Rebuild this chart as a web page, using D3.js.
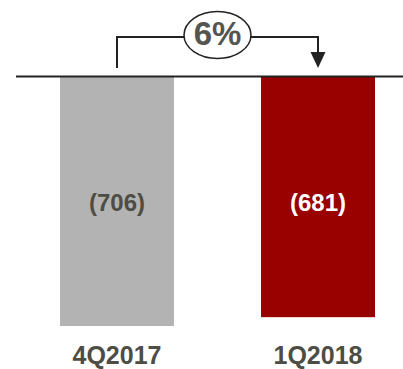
<!DOCTYPE html>
<html>
<head>
<meta charset="utf-8">
<script src="https://cdn.jsdelivr.net/npm/d3@7"></script>
<style>
  html, body { margin: 0; padding: 0; background: #fff; }
  svg { display: block; }
  text { font-family: "Liberation Sans", Arial, sans-serif; font-weight: bold; }
</style>
</head>
<body>
<svg id="chart" width="403" height="369"></svg>
<script>
// Quarterly values (negative amounts, shown in parentheses)
const categories = ["4Q2017", "1Q2018"];
const values = [-706, -681];
const valueLabels = ["(706)", "(681)"];
const barColors = ["#b3b3b3", "#990000"];
const labelColors = ["#4d4d45", "#ffffff"];
const changeLabel = "6%";

const svg = d3.select("#chart");

const x = d3.scaleBand()
  .domain(categories)
  .range([60, 375])
  .paddingInner(0.433)
  .paddingOuter(0);

const y = d3.scaleLinear()
  .domain([0, -706])
  .range([77, 326]);

// Bars hanging below the zero line
svg.selectAll("rect.bar")
  .data(categories)
  .join("rect")
  .attr("class", "bar")
  .attr("x", d => x(d))
  .attr("width", x.bandwidth())
  .attr("y", y(0))
  .attr("height", (d, i) => y(values[i]) - y(0))
  .attr("fill", (d, i) => barColors[i]);

// Zero line
svg.append("line")
  .attr("x1", 16).attr("x2", 403)
  .attr("y1", y(0) - 0.5).attr("y2", y(0) - 0.5)
  .attr("stroke", "#222").attr("stroke-width", 2);

// Value labels inside bars
svg.selectAll("text.val")
  .data(categories)
  .join("text")
  .attr("class", "val")
  .attr("x", d => x(d) + x.bandwidth() / 2)
  .attr("y", 211)
  .attr("text-anchor", "middle")
  .attr("font-size", 24)
  .attr("fill", (d, i) => labelColors[i])
  .text((d, i) => valueLabels[i]);

// Category labels
svg.selectAll("text.cat")
  .data(categories)
  .join("text")
  .attr("class", "cat")
  .attr("x", d => x(d) + x.bandwidth() / 2)
  .attr("y", 364)
  .attr("text-anchor", "middle")
  .attr("font-size", 25)
  .attr("fill", "#4d4d45")
  .text(d => d);

// Change bracket with arrow
const cx0 = x(categories[0]) + x.bandwidth() / 2;
const cx1 = x(categories[1]) + x.bandwidth() / 2;
const topY = 37;
const arrowBase = 52;
const arrowTip = 68;

svg.append("path")
  .attr("d", `M${cx0},${arrowTip} V${topY} H${cx1} V${arrowBase}`)
  .attr("fill", "none")
  .attr("stroke", "#222")
  .attr("stroke-width", 2);

svg.append("path")
  .attr("d", `M${cx1 - 7.5},${arrowBase} L${cx1 + 7.5},${arrowBase} L${cx1},${arrowTip} Z`)
  .attr("fill", "#222");

const ecx = (cx0 + cx1) / 2;
svg.append("ellipse")
  .attr("cx", ecx).attr("cy", 35)
  .attr("rx", 33.5).attr("ry", 23.5)
  .attr("fill", "#fff")
  .attr("stroke", "#222")
  .attr("stroke-width", 1.5);

svg.append("text")
  .attr("x", ecx)
  .attr("y", 45)
  .attr("text-anchor", "middle")
  .attr("font-size", 33)
  .attr("fill", "#555550")
  .text(changeLabel);
</script>
</body>
</html>
